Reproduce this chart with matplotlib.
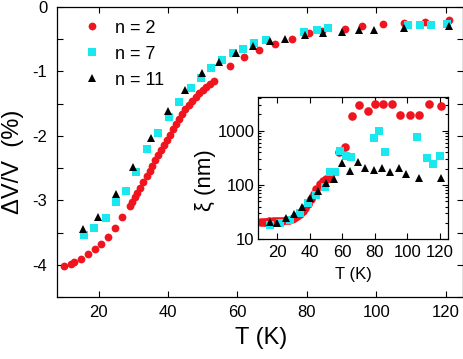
import matplotlib
matplotlib.use("Agg")
import matplotlib.pyplot as plt
import matplotlib.ticker as ticker

plt.rcParams['font.family'] = ['Liberation Sans', 'DejaVu Sans']
plt.rcParams['axes.unicode_minus'] = False

# main panel: relative volume change vs temperature
t_n2 = [10, 11.9, 13, 14.8, 16.9, 19, 20.8, 22.7, 24.8, 26.8, 29, 29.7, 30.4, 31.1,
        31.9, 32.8, 33.8, 34.7, 35.5, 36.3, 37.1, 37.9, 38.8, 39.7, 40.6, 41.4, 42.3,
        43.1, 44.0, 45.0, 46.0, 47.0, 48.0, 49.0, 50.0, 51.0, 52.0, 53.3, 57.8, 62,
        66.3, 70.7, 75.6, 80.5, 84.5, 90.9, 95.8, 102, 108, 114, 120.9]
dv_n2 = [-4.02, -3.99, -3.95, -3.91, -3.84, -3.76, -3.68, -3.57, -3.43, -3.26, -3.09,
         -3.02, -2.95, -2.88, -2.81, -2.72, -2.62, -2.54, -2.46, -2.38, -2.30, -2.22,
         -2.14, -2.06, -1.98, -1.90, -1.82, -1.74, -1.66, -1.59, -1.52, -1.46, -1.40,
         -1.34, -1.29, -1.24, -1.20, -1.15, -0.92, -0.78, -0.67, -0.58, -0.49, -0.41,
         -0.37, -0.34, -0.30, -0.27, -0.25, -0.23, -0.20]

t_n7 = [15.9, 18.8, 22.0, 24.9, 27.8, 30.8, 33.8, 37.1, 40.2, 43.3, 46.6, 49.6, 52.4,
        55.6, 58.6, 61.5, 64.8, 68.2, 79.3, 82.8, 86.2, 109.2, 112.5, 115.9, 120.5]
dv_n7 = [-3.54, -3.43, -3.28, -3.02, -2.85, -2.56, -2.21, -1.96, -1.70, -1.47, -1.25,
         -1.10, -0.94, -0.83, -0.72, -0.65, -0.56, -0.51, -0.39, -0.35, -0.33, -0.28,
         -0.28, -0.28, -0.26]

t_n11 = [15.4, 19.9, 25.1, 30.0, 35.1, 39.9, 44.9, 49.8, 54.7, 59.7, 64.5, 69.5, 73.6,
         79.4, 84.7, 90.0, 95.1, 99.4, 107.9, 121.0]
dv_n11 = [-3.44, -3.26, -2.90, -2.49, -2.03, -1.61, -1.29, -1.03, -0.85, -0.72, -0.61,
          -0.53, -0.49, -0.44, -0.41, -0.39, -0.36, -0.35, -0.33, -0.29]

# inset: correlation length xi (nm)
ti_n2 = [10, 12, 13, 15, 17, 19, 21, 23, 25, 27, 29, 30.4, 31.9, 33.8, 35.5, 37.1, 38.8,
         40.6, 42.3, 44, 46, 48, 50, 52, 57.6, 61.7, 66, 70.5, 75.6, 80.1, 84.8, 90.5,
         95.6, 101.6, 107.3, 113.4, 120.6]
xi_n2 = [21, 21, 21, 21.5, 22, 22, 22, 22, 22.5, 23, 24, 25, 26.5, 29, 33, 38, 45, 55,
         68, 83, 102, 118, 128, 135, 410, 505, 1820, 2950, 2300, 3050, 3050, 3050, 1950,
         1900, 1950, 3050, 2850]

ti_n7 = [15.3, 21.4, 27.5, 33.7, 38.8, 44.0, 49.4, 52.4, 55.2, 58.8, 62.5, 65.2,
         79.3, 82.8, 86.4, 106, 112.1, 115.9, 120.2]
xi_n7 = [18.3, 19.7, 22.7, 30, 46, 66, 93, 170, 172, 420, 345, 330,
         740, 1000, 405, 760, 315, 245, 342]

ti_n11 = [15.3, 20, 25.5, 30.2, 35.1, 39.8, 44.9, 49.6, 54.7, 59.7, 64.4, 69.7, 73.6,
          79.3, 84.4, 89.5, 95, 99.1, 107.3, 120.6]
xi_n11 = [21, 19.7, 24.4, 29, 40, 57, 79, 110, 127, 258, 182, 270, 204, 190, 204, 176,
          204, 159, 136, 133]

red = '#f0141e'
cyan = '#19e8ee'

fig = plt.figure(figsize=(4.64, 3.59), dpi=100)
ax = fig.add_axes([0.1228, 0.1727, 0.875, 0.8078])

ax.plot(t_n2, dv_n2, 'o', color=red, ms=5.6, mew=0, label='n = 2')
ax.plot(t_n7, dv_n7, 's', color=cyan, ms=5.2, mew=0, label='n = 7')
ax.plot(t_n11, dv_n11, '^', color='black', ms=5.6, mew=0, label='n = 11')

ax.set_xlim(8, 125)
ax.set_ylim(-4.5, 0)
ax.xaxis.set_major_locator(ticker.MultipleLocator(20))
ax.yaxis.set_major_locator(ticker.MultipleLocator(1))
ax.yaxis.set_minor_locator(ticker.MultipleLocator(0.5))
ax.yaxis.set_major_formatter(ticker.FuncFormatter(lambda v, p: f'{v:g}'))
ax.tick_params(which='both', direction='in', top=True, right=True, length=4,
               width=0.8, labelsize=12)
ax.tick_params(axis='y', pad=7)
ax.tick_params(axis='x', pad=6)
for s in ax.spines.values():
    s.set_linewidth(0.9)

ax.set_xlabel('T (K)', fontsize=17, va='center')
ax.xaxis.set_label_coords(0.502, -0.141)
ax.set_ylabel('ΔV/V  (%)', fontsize=17, va='center')
ax.yaxis.set_label_coords(-0.108, 0.466)

ax.legend(loc='upper left', bbox_to_anchor=(0.02, 1.0), frameon=False, fontsize=13,
          handletextpad=0.45, labelspacing=0.5, borderaxespad=0.45, handlelength=1.6,
          borderpad=0.25)

# inset
axi = fig.add_axes([0.556, 0.3334, 0.4095, 0.3955])
axi.plot(ti_n2, xi_n2, 'o', color=red, ms=6.2, mew=0)
axi.plot(ti_n7, xi_n7, 's', color=cyan, ms=5.8, mew=0)
axi.plot(ti_n11, xi_n11, '^', color='black', ms=5.8, mew=0)

axi.set_yscale('log')
axi.set_xlim(8, 125)
axi.set_ylim(10, 4100)
axi.xaxis.set_major_locator(ticker.MultipleLocator(20))
axi.yaxis.set_major_formatter(ticker.FuncFormatter(lambda v, p: f'{v:g}'))
axi.yaxis.set_minor_formatter(ticker.NullFormatter())
axi.tick_params(which='both', direction='in', top=True, right=True, width=0.8,
                labelsize=12)
axi.tick_params(which='major', length=4)
axi.tick_params(which='minor', length=2)
axi.tick_params(axis='y', pad=2.5)
axi.tick_params(axis='x', pad=4)
for s in axi.spines.values():
    s.set_linewidth(0.9)

axi.set_xlabel('T (K)', fontsize=12, va='center')
axi.xaxis.set_label_coords(0.504, -0.251)
axi.set_ylabel('ξ (nm)', fontsize=16, va='center')
axi.yaxis.set_label_coords(-0.275, 0.418)

fig.savefig('out.png', dpi=100)
